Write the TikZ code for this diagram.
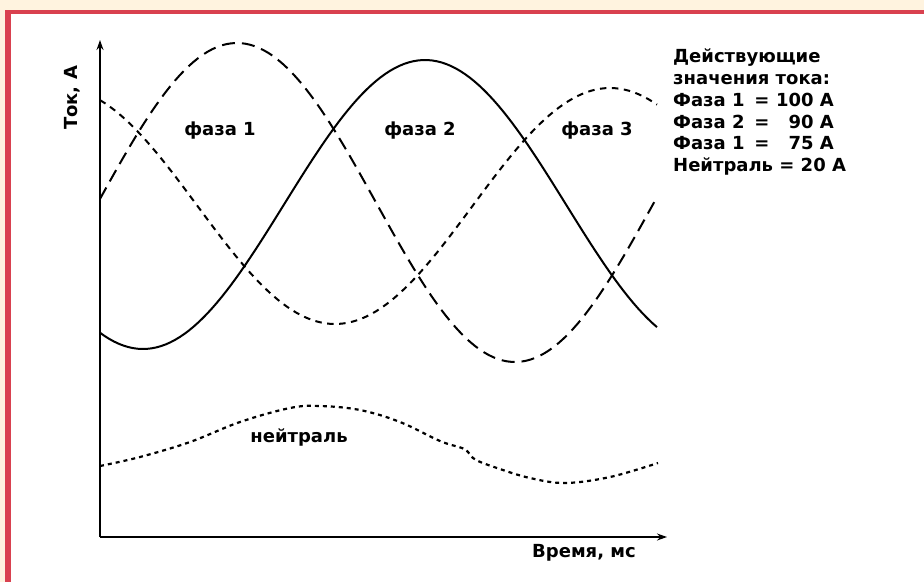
\documentclass[tikz,border=0pt]{standalone}
\usepackage{fontspec}
\setmainfont{DejaVu Sans}
\usetikzlibrary{arrows.meta}
\definecolor{cream}{HTML}{FFF3DF}
\definecolor{frame}{HTML}{D9414F}
\tikzset{
  lbl/.style={font=\bfseries\fontsize{18}{21}\selectfont, inner sep=0pt},
  axis/.style={line width=1.4pt, -{Stealth[length=10pt,width=7pt]}},
  ph1/.style={line width=2pt, dash pattern=on 13pt off 7pt},
  ph2/.style={line width=2pt},
  ph3/.style={line width=2pt, dash pattern=on 6.5pt off 5.5pt},
  neut/.style={line width=2.2pt, dash pattern=on 4pt off 4pt},
}
\begin{document}
\begin{tikzpicture}[x=1pt,y=-1pt]
\useasboundingbox (0,0) rectangle (924,582);
\fill[cream] (0,0) rectangle (924,582);
\fill[frame] (5,10) rectangle (924,582);
\fill[white] (11,14) rectangle (924,582);
% axes
\coordinate (O) at (100,537);
\coordinate (Ytop) at (100,40);
\coordinate (Xend) at (667,537);
\draw[axis] (O) -- (Ytop);
\draw[axis] (O) -- (Xend);
% curves
\draw[ph2] plot[domain=100:657,samples=120] (\x,{204.5-144.5*cos((\x-425)*(360/564))});
\draw[ph1] plot[domain=100:657,samples=120] (\x,{202.5+159.5*cos((\x-515)*(360/556))});
\draw[ph3] plot[domain=100:657,samples=120] (\x,{206+118*cos((\x-335)*(360/550))});
\draw[neut] plot[smooth,tension=0.6] coordinates {(100,466) (140,457) (190,442) (240,422) (290,408) (320,406) (360,410) (400,422) (440,441) (462,448) (468,452) (476,460) (500,469) (530,478) (565,483) (610,477) (658,463)};
% labels
\node[lbl,rotate=90] (ylab) at (72,98) {Ток, А};
\node[lbl] (xlab) at (584,553) {Время, мс};
\node[lbl] (f1) at (220,131) {фаза 1};
\node[lbl] (f2) at (420,131) {фаза 2};
\node[lbl] (f3) at (597,131) {фаза 3};
\node[lbl] (nt) at (299,437) {нейтраль};
% legend
\node[lbl,anchor=base west] (l1) at (673,62.5) {Действующие};
\node[lbl,anchor=base west] (l2) at (673,84.5) {значения тока:};
\node[lbl,anchor=base west] (l3) at (673,106.5) {Фаза 1};
\node[lbl,anchor=base] (l3e) at (762,106.5) {=};
\node[lbl,anchor=base east] (l3v) at (834,106.5) {100 А};
\node[lbl,anchor=base west] (l4) at (673,128) {Фаза 2};
\node[lbl,anchor=base] (l4e) at (762,128) {=};
\node[lbl,anchor=base east] (l4v) at (834,128) {90 А};
\node[lbl,anchor=base west] (l5) at (673,149.5) {Фаза 1};
\node[lbl,anchor=base] (l5e) at (762,149.5) {=};
\node[lbl,anchor=base east] (l5v) at (834,149.5) {75 А};
\node[lbl,anchor=base west] (l6) at (673,171) {Нейтраль = 20 А};
\end{tikzpicture}
\end{document}
